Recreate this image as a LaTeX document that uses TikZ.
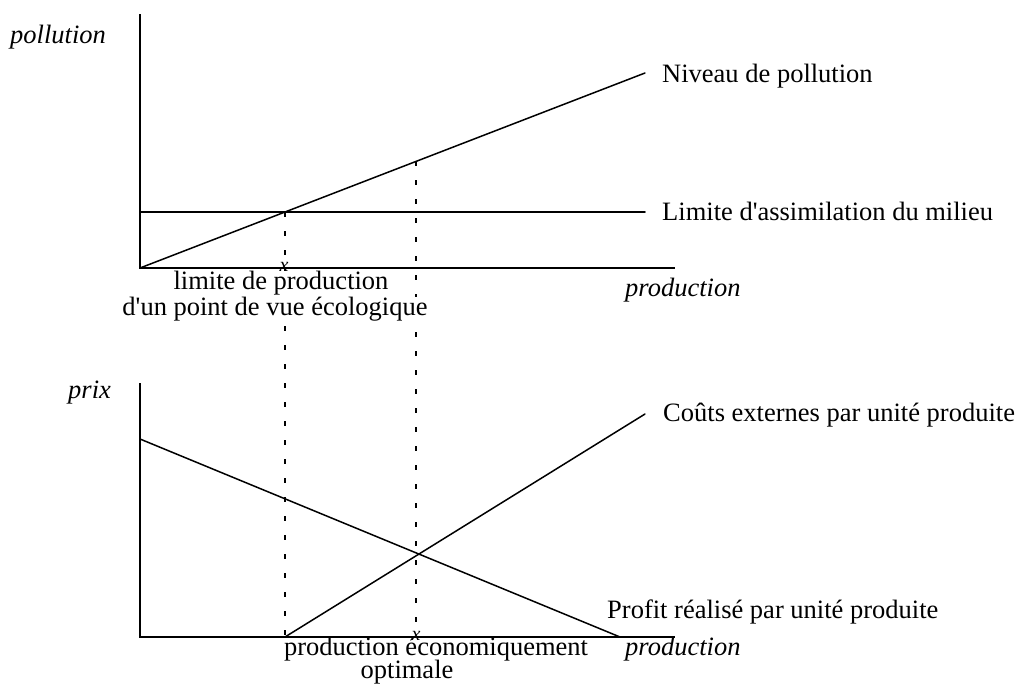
\documentclass[tikz,border=0pt]{standalone}
\usepackage{fontspec}
\setmainfont{Liberation Serif}
\tikzset{
  curve/.style={line width=1.5pt, line cap=round},
  axisline/.style={line width=1.5pt},
  guide/.style={line width=1.3pt, dash pattern=on 5pt off 14pt},
  lbl/.style={inner sep=0pt, anchor=base west, font=\fontsize{26.5}{30}\selectfont},
  ilbl/.style={inner sep=0pt, anchor=base west, font=\fontsize{26.5}{30}\selectfont\itshape},
  clbl/.style={inner sep=0pt, anchor=base, font=\fontsize{26.5}{30}\selectfont},
  mask/.style={fill=white},
  xmark/.style={inner sep=0pt, font=\fontsize{20}{20}\selectfont\itshape}
}
\begin{document}
\begin{tikzpicture}[x=1pt,y=-1pt]
\useasboundingbox (0,0) rectangle (1020,688);
% ---------- top chart ----------
\coordinate (tY) at (140,14);
\coordinate (tO) at (140,268);
\coordinate (tX) at (675,268);
\coordinate (tH0) at (140,212);
\coordinate (tH1) at (645,212);
\coordinate (tP1) at (645,73);
\coordinate (tA) at (285,212);
\coordinate (tB) at (416,161);
\draw[axisline] (tY) -- (tO) -- (tX);
\draw[curve] (tO) -- (tP1);
\draw[curve] (tH0) -- (tH1);
% ---------- bottom chart ----------
\coordinate (bY) at (140,383);
\coordinate (bO) at (140,637);
\coordinate (bX) at (675,637);
\coordinate (bProf0) at (140,439);
\coordinate (bProf1) at (620,637);
\coordinate (bCost0) at (285,637);
\coordinate (bCost1) at (645,414);
\coordinate (bA) at (285,637);
\coordinate (bB) at (416,637);
\draw[axisline] (bY) -- (bO) -- (bX);
\draw[curve] (bProf0) -- (bProf1);
\draw[curve] (bCost0) -- (bCost1);
% ---------- guides ----------
\draw[guide] (tA) -- (bA);
\draw[guide] (tB) -- (bB);
% ---------- labels ----------
\node[ilbl] (lpol) at (10,43) {pollution};
\node[lbl] (lniv) at (662,82) {Niveau de pollution};
\node[lbl] (llim) at (662,220) {Limite d\textquotesingle assimilation du milieu};
\node[ilbl] (lprod1) at (625,296) {production};
\node[clbl,mask] (lecol1) at (281,289) {limite de production};
\node[clbl,mask] (lecol2) at (275,315) {d\textquotesingle un point de vue écologique};
\node[xmark] (x1) at (284,267) {x};
\node[ilbl] (lprix) at (68,398) {prix};
\node[lbl] (lcout) at (663,421) {Coûts externes par unité produite};
\node[lbl] (lprof) at (607,618) {Profit réalisé par unité produite};
\node[ilbl] (lprod2) at (625,655) {production};
\node[clbl] (leco1) at (436,655) {production économiquement};
\node[clbl] (leco2) at (407,678) {optimale};
\node[xmark] (x2) at (416,636) {x};
\end{tikzpicture}
\end{document}
